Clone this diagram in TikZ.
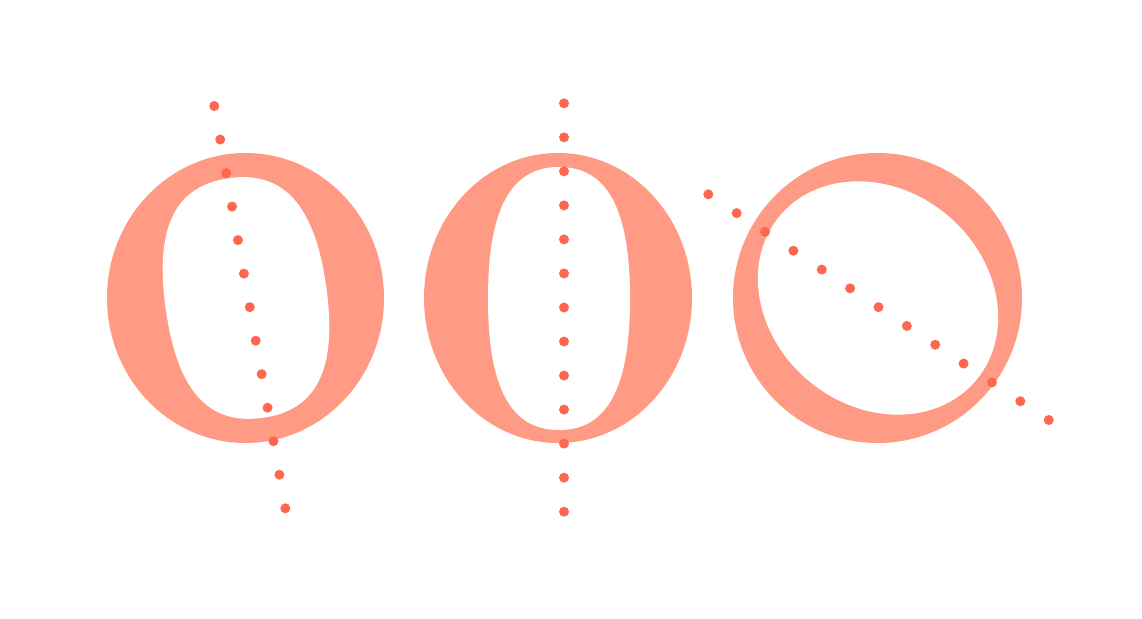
\documentclass[tikz,border=0pt]{standalone}
\usetikzlibrary{calc}
\definecolor{letter}{HTML}{FF9B85}
\definecolor{dotc}{HTML}{FF6650}
\tikzset{
  glyph/.style={fill=letter},
  hole/.style={fill=white},
  axisdot/.style={fill=dotc},
}
% superellipse-like counter: #1 half-width, #2 half-height, #3 handle factor
\newcommand{\counterpath}[3]{%
  (0,#2) .. controls ({#3*#1},#2) and (#1,{#3*#2}) .. (#1,0)
  .. controls (#1,{-#3*#2}) and ({#3*#1},-#2) .. (0,-#2)
  .. controls ({-#3*#1},-#2) and (-#1,{-#3*#2}) .. (-#1,0)
  .. controls (-#1,{#3*#2}) and ({-#3*#1},#2) .. (0,#2) -- cycle}
\begin{document}
\begin{tikzpicture}[x=1pt,y=-1pt]
\useasboundingbox (0,0) rectangle (1142,618);
\fill[white] (0,0) rectangle (1142,618);

% ---- O 1 (tilted axis)
\fill[glyph] (245.5,298) ellipse [x radius=138.5, y radius=145];
\begin{scope}[shift={(246,298)}, rotate=8]
  \fill[hole] \counterpath{81}{121}{0.68};
\end{scope}

% ---- O 2 (vertical axis)
\fill[glyph] (558,298) ellipse [x radius=134, y radius=145];
\begin{scope}[shift={(559,298.5)}]
  \fill[hole] \counterpath{71}{131.5}{0.68};
\end{scope}

% ---- O 3 (oblique axis)
\fill[glyph] (877.5,298) ellipse [x radius=144.5, y radius=145];
\begin{scope}[shift={(878,298)}, rotate=-40]
  \fill[hole] (0,0) ellipse [x radius=128, y radius=108];
\end{scope}

% ---- axes of dots
\coordinate (a1) at (214.3,106);   \coordinate (b1) at (285.3,508.3);
\coordinate (a2) at (564,103.3);   \coordinate (b2) at (564,511.7);
\coordinate (a3) at (708.3,194.3); \coordinate (b3) at (1048.7,420);
\foreach \k in {1,2,3}{
  \foreach \i in {0,...,12}{
    \fill[axisdot] ($(a\k)!\i/12!(b\k)$) circle [radius=5];
  }
}
\end{tikzpicture}
\end{document}
